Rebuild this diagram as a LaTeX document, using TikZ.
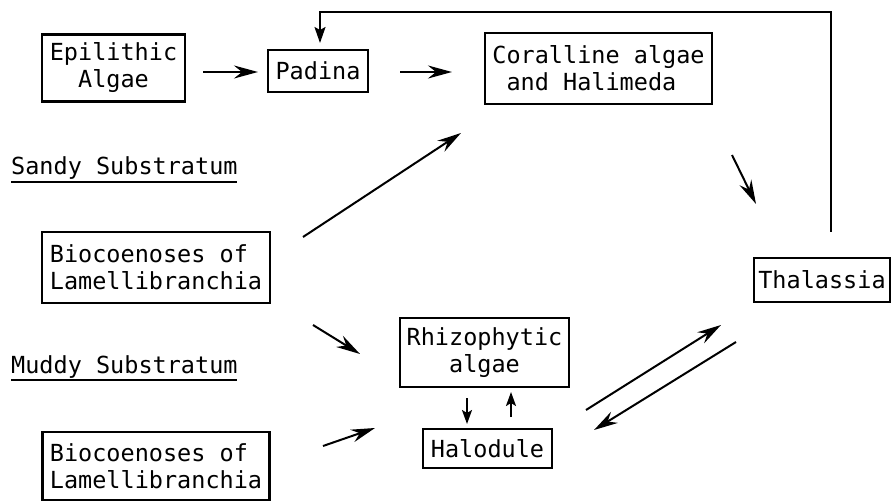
\documentclass[tikz,border=0pt]{standalone}
\usepackage{fontspec}
\setmonofont{DejaVu Sans Mono}
\usetikzlibrary{arrows.meta}
\tikzset{
  box/.style={draw, line width=2.4pt, inner sep=0pt, font=\ttfamily\fontsize{23.5}{27}\selectfont},
  lbl/.style={inner sep=0pt, font=\ttfamily\fontsize{23.5}{27}\selectfont, anchor=base west},
  bigarrow/.style={line width=2pt, -{Stealth[length=24pt,width=13pt,inset=8pt]}},
  smallarrow/.style={line width=2pt, -{Stealth[length=14pt,width=10pt,inset=3pt]}},
  plainline/.style={line width=2pt}
}
\begin{document}
\begin{tikzpicture}[x=1pt,y=-1pt]
\useasboundingbox (0,0) rectangle (893,502);
% boxes
\node[box, minimum width=143pt, minimum height=67pt, align=center] (epi) at (113.5,68) {Epilithic\\Algae};
\node[box, minimum width=100pt, minimum height=42pt] (pad) at (318,71) {Padina};
\node[box, minimum width=227pt, minimum height=71pt, align=left] (cor) at (598.5,68.5) {Coralline algae\\\phantom{a}and Halimeda};
\node[box, minimum width=136pt, minimum height=44pt] (tha) at (822,280) {Thalassia};
\node[box, minimum width=228pt, minimum height=71pt, align=left] (bio1) at (156,267.5) {Biocoenoses of\\Lamellibranchia};
\node[box, minimum width=227pt, minimum height=68pt, align=left] (bio2) at (156,466) {Biocoenoses of\\Lamellibranchia};
\node[box, minimum width=169pt, minimum height=69pt, align=center] (rhi) at (484.5,352.5) {Rhizophytic\\algae};
\node[box, minimum width=129pt, minimum height=39pt] (hal) at (487.5,448.5) {Halodule};
% labels
\node[lbl] (sandy) at (11,175) {Sandy Substratum};
\draw[line width=1.5pt] (sandy.base west) ++(0,7) -- ++(226,0);
\node[lbl] (muddy) at (11,373) {Muddy Substratum};
\draw[line width=1.5pt] (muddy.base west) ++(0,7) -- ++(226,0);
% arrow end points
\coordinate (a1s) at (203,72);  \coordinate (a1e) at (258,72);
\coordinate (a2s) at (400,72);  \coordinate (a2e) at (452,72);
\coordinate (a3s) at (732,155); \coordinate (a3e) at (756,204);
\coordinate (a4s) at (303,237); \coordinate (a4e) at (461,133);
\coordinate (a5s) at (313,325); \coordinate (a5e) at (360,354);
\coordinate (a6s) at (323,446); \coordinate (a6e) at (375,428);
\coordinate (a7s) at (586,410); \coordinate (a7e) at (721,325);
\coordinate (a8s) at (736,342); \coordinate (a8e) at (594,430);
\coordinate (a9s) at (467,398); \coordinate (a9e) at (467,424);
\coordinate (a10s) at (511,417); \coordinate (a10e) at (511,392);
\coordinate (fb1) at (831,232); \coordinate (fb2) at (831,12);
\coordinate (fb3) at (320,12);  \coordinate (fb4) at (320,43);
% connectors
\draw[bigarrow] (a1s) -- (a1e);
\draw[bigarrow] (a2s) -- (a2e);
\draw[bigarrow] (a3s) -- (a3e);
\draw[bigarrow] (a4s) -- (a4e);
\draw[bigarrow] (a5s) -- (a5e);
\draw[bigarrow] (a6s) -- (a6e);
\draw[bigarrow] (a7s) -- (a7e);
\draw[bigarrow] (a8s) -- (a8e);
\draw[smallarrow] (a9s) -- (a9e);
\draw[smallarrow] (a10s) -- (a10e);
\draw[smallarrow, -{Stealth[length=16pt,width=11pt,inset=3pt]}] (fb1) -- (fb2) -- (fb3) -- (fb4);
\end{tikzpicture}
\end{document}
